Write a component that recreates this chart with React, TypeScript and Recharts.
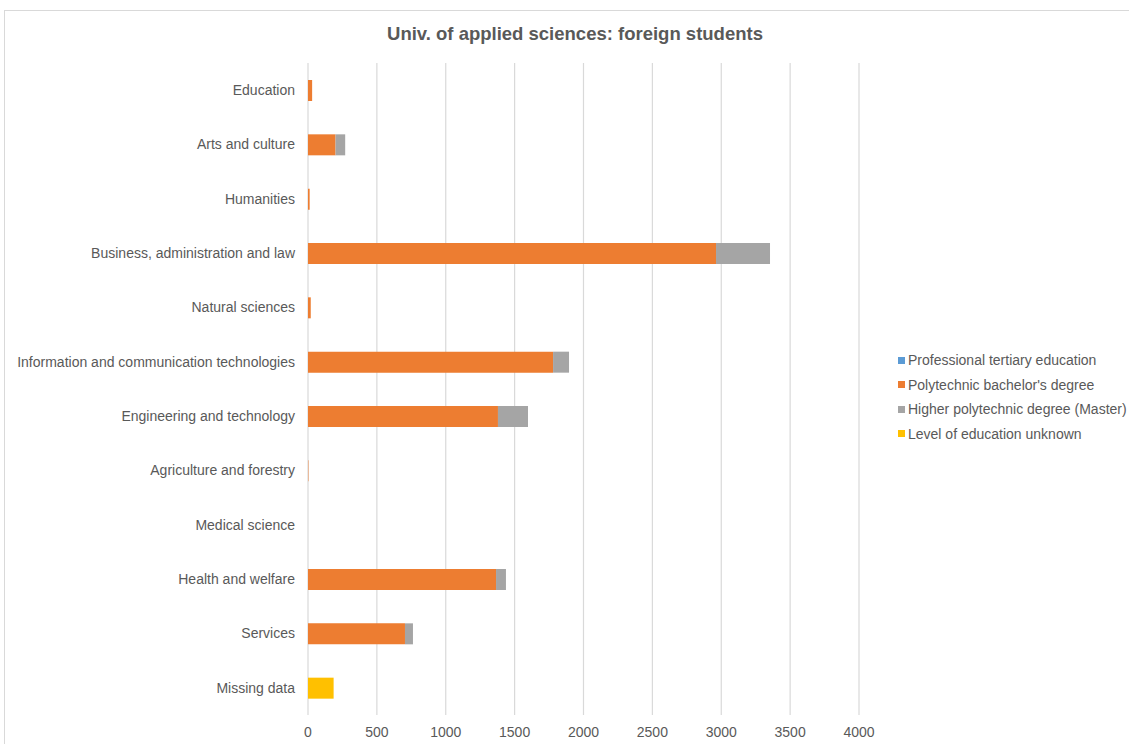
import { BarChart, Bar, XAxis, YAxis, CartesianGrid } from "recharts";

// Categories, top to bottom
const categories = [
  "Education",
  "Arts and culture",
  "Humanities",
  "Business, administration and law",
  "Natural sciences",
  "Information and communication technologies",
  "Engineering and technology",
  "Agriculture and forestry",
  "Medical science",
  "Health and welfare",
  "Services",
  "Missing data",
];

const professionalTertiary = [0, 0, 0, 0, 0, 0, 0, 0, 0, 0, 0, 0];
const polytechnicBachelor = [30, 200, 12, 2962, 20, 1779, 1379, 3, 0, 1365, 704, 0];
const higherPolytechnic = [0, 70, 0, 392, 0, 116, 218, 0, 0, 72, 58, 0];
const levelUnknown = [0, 0, 0, 0, 0, 0, 0, 0, 0, 0, 0, 186];

const xTicks = [0, 500, 1000, 1500, 2000, 2500, 3000, 3500, 4000];

const series = [
  { key: "professional", name: "Professional tertiary education", color: "#5B9BD5" },
  { key: "bachelor", name: "Polytechnic bachelor's degree", color: "#ED7D31" },
  { key: "master", name: "Higher polytechnic degree (Master)", color: "#A5A5A5" },
  { key: "unknown", name: "Level of education unknown", color: "#FFC000" },
];

const data = categories.map((label, i) => ({
  label,
  professional: professionalTertiary[i],
  bachelor: polytechnicBachelor[i],
  master: higherPolytechnic[i],
  unknown: levelUnknown[i],
}));

const FONT = '"Liberation Sans", Arial, sans-serif';
const TEXT = "#595959";

export default function App() {
  return (
    <div
      style={{
        position: "absolute",
        left: 0,
        top: 0,
        width: 1129,
        height: 744,
        overflow: "hidden",
        background: "#fff",
        fontFamily: FONT,
      }}
    >
      {/* chart area frame */}
      <div
        style={{
          position: "absolute",
          left: 4,
          top: 10,
          width: 1160,
          height: 760,
          border: "1px solid #d9d9d9",
        }}
      />
      <div
        style={{
          position: "absolute",
          left: 4,
          width: 1142,
          top: 23,
          textAlign: "center",
          fontSize: 18.5,
          fontWeight: 700,
          color: TEXT,
        }}
      >
        Univ. of applied sciences: foreign students
      </div>

      <div style={{ position: "absolute", left: 0, top: 0 }}>
        <BarChart
          width={890}
          height={744}
          data={data}
          layout="vertical"
          barSize={21}
          margin={{ top: 63, right: 31, bottom: 0, left: 0 }}
        >
          <CartesianGrid horizontal={false} stroke="#d9d9d9" strokeWidth={1.2} />
          <XAxis
            type="number"
            domain={[0, 4000]}
            ticks={xTicks}
            axisLine={false}
            tickLine={false}
            height={29}
            tickMargin={6}
            tick={{ fill: TEXT, fontSize: 14, fontFamily: FONT }}
          />
          <YAxis
            type="category"
            dataKey="label"
            width={308}
            axisLine={false}
            tickLine={false}
            tickMargin={7}
            interval={0}
            tick={{ fill: TEXT, fontSize: 14, fontFamily: FONT }}
          />
          {series.map((s) => (
            <Bar
              key={s.key}
              dataKey={s.key}
              name={s.name}
              stackId="a"
              fill={s.color}
              isAnimationActive={false}
            />
          ))}
        </BarChart>
      </div>

      {/* legend */}
      <div style={{ position: "absolute", left: 898, top: 348 }}>
        {series.map((s) => (
          <div
            key={s.key}
            style={{
              display: "flex",
              alignItems: "center",
              height: 24.5,
              fontSize: 14,
              color: TEXT,
              whiteSpace: "nowrap",
            }}
          >
            <span
              style={{
                display: "inline-block",
                width: 7,
                height: 7,
                background: s.color,
                marginRight: 3,
              }}
            />
            {s.name}
          </div>
        ))}
      </div>
    </div>
  );
}
